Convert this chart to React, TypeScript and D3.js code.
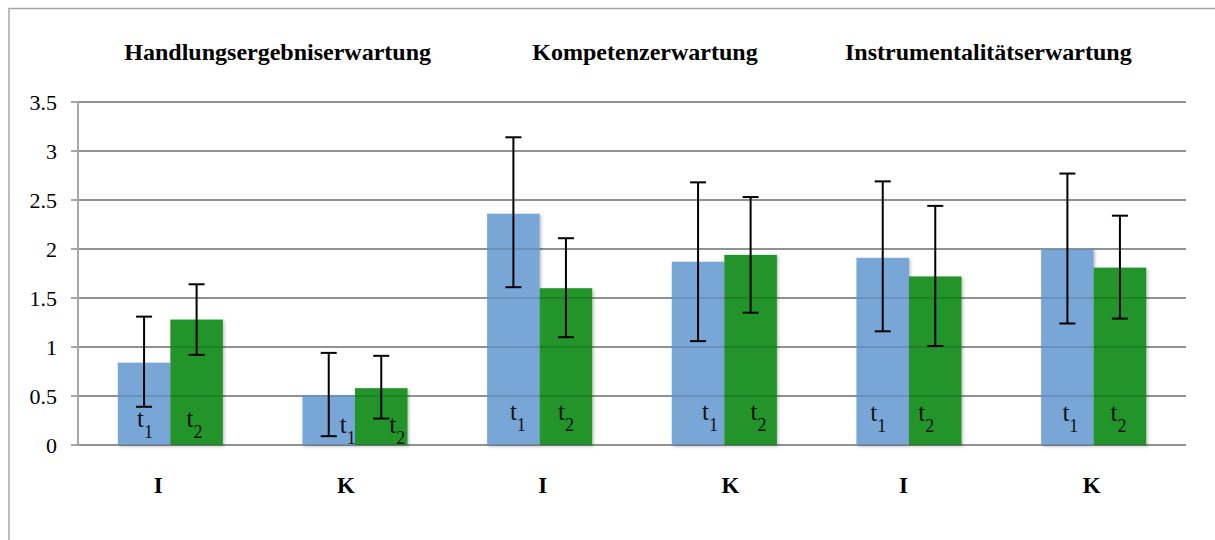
import React from "react";
import * as d3 from "d3";

const groupTitles = ["Handlungsergebniserwartung", "Kompetenzerwartung", "Instrumentalitätserwartung"];
const categories = ["I", "K", "I", "K", "I", "K"];
const seriesNames = ["t1", "t2"];
const t1Values = [0.84, 0.51, 2.36, 1.87, 1.91, 2.0];
const t2Values = [1.28, 0.58, 1.6, 1.94, 1.72, 1.81];
const t1Upper = [1.31, 0.94, 3.14, 2.68, 2.69, 2.77];
const t1Lower = [0.39, 0.09, 1.61, 1.06, 1.16, 1.24];
const t2Upper = [1.64, 0.91, 2.11, 2.53, 2.44, 2.34];
const t2Lower = [0.92, 0.27, 1.1, 1.35, 1.01, 1.29];
const yTicks = [0, 0.5, 1, 1.5, 2, 2.5, 3, 3.5];
const yTickLabels = ["0", "0.5", "1", "1.5", "2", "2.5", "3", "3.5"];

// layout tweaks (pixel offsets of hand-placed text)
const titleOffsets = [15, 13, -13];
const catLabelOffsets = [-12, -9, 3, 6, -5.5, -2];
const t1LabelOffsets = [-7, 11, -3.5, 4, -12.5, -5];
const t2LabelOffsets = [-10, 8, -8, 0, -17, -9.5];
const tLabelBaseline = [-18, -12, -25, -25, -24, -24];

const W = 1215;
const H = 540;
const left = 78;
const right = 1186;
const top = 102;
const bottom = 445;
const FONT = "'Times New Roman', 'Liberation Serif', Times, serif";
const BLUE = "#78a6d6";
const GREEN = "#22942a";
const GRID = "#a6a6a6";

export default function App() {
  const x = d3
    .scaleBand<number>()
    .domain(categories.map((_, i) => i))
    .range([left, right])
    .paddingInner(0.431)
    .paddingOuter(0.2155);
  const xs = d3.scaleBand<string>().domain(seriesNames).range([0, x.bandwidth()]).padding(0);
  const y = d3.scaleLinear().domain([0, 3.5]).range([bottom, top]);

  const series = [
    { name: "t1", values: t1Values, upper: t1Upper, lower: t1Lower, color: BLUE, offs: t1LabelOffsets, sub: "1" },
    { name: "t2", values: t2Values, upper: t2Upper, lower: t2Lower, color: GREEN, offs: t2LabelOffsets, sub: "2" },
  ];

  const center = (i: number) => (x(i) as number) + x.bandwidth() / 2;

  return (
    <svg
      width={W}
      height={H}
      style={{ position: "absolute", left: 0, top: 0, display: "block", background: "#fff" }}
    >
      <defs>
        <filter id="shadow" x="-10%" y="-10%" width="130%" height="130%">
          <feDropShadow dx="1.5" dy="1.5" stdDeviation="1.5" floodColor="#000" floodOpacity="0.25" />
        </filter>
      </defs>
      <rect x={9} y={8.5} width={1400} height={700} fill="none" stroke={GRID} strokeWidth={1.5} />

      {/* titles */}
      {groupTitles.map((t, g) => (
        <text
          key={t}
          x={(center(g * 2) + center(g * 2 + 1)) / 2 + titleOffsets[g]}
          y={60}
          textAnchor="middle"
          fontFamily={FONT}
          fontWeight="bold"
          fontSize={24}
        >
          {t}
        </text>
      ))}

      {/* gridlines under bars */}
      {yTicks.map((v) => (
        <line key={"g" + v} x1={left} x2={right} y1={y(v)} y2={y(v)} stroke={GRID} strokeWidth={2} />
      ))}

      {/* bars */}
      {series.map((s) =>
        s.values.map((v, i) => (
          <rect
            key={s.name + i}
            x={(x(i) as number) + (xs(s.name) as number)}
            y={y(v)}
            width={xs.bandwidth()}
            height={y(0) - y(v)}
            fill={s.color}
            filter="url(#shadow)"
          />
        ))
      )}

      {/* gridlines over bars (faint) */}
      {yTicks.map((v) => (
        <line key={"go" + v} x1={left} x2={right} y1={y(v)} y2={y(v)} stroke="#000" strokeOpacity={0.12} strokeWidth={2} />
      ))}

      {/* axis */}
      <line x1={left} x2={left} y1={y(3.5) - 1} y2={y(0) + 1} stroke={GRID} strokeWidth={2} />
      {yTicks.map((v, k) => (
        <g key={"t" + v}>
          <line x1={left - 7} x2={left} y1={y(v)} y2={y(v)} stroke={GRID} strokeWidth={2} />
          <text x={57} y={y(v) + 7.5} textAnchor="end" fontFamily={FONT} fontSize={22}>
            {yTickLabels[k]}
          </text>
        </g>
      ))}

      {/* t labels */}
      {series.map((s) =>
        s.values.map((_, i) => {
          const cx = (x(i) as number) + (xs(s.name) as number) + xs.bandwidth() / 2;
          return (
            <text
              key={"lbl" + s.name + i}
              x={cx + s.offs[i]}
              y={y(0) + tLabelBaseline[i]}
              fontFamily={FONT}
              fontSize={25}
              fill="#111"
            >
              t
              <tspan dy={11} fontSize={18}>
                {s.sub}
              </tspan>
            </text>
          );
        })
      )}

      {/* error bars */}
      {series.map((s) =>
        s.values.map((_, i) => {
          const cx = (x(i) as number) + (xs(s.name) as number) + xs.bandwidth() / 2;
          const yu = y(s.upper[i]);
          const yl = y(s.lower[i]);
          return (
            <g key={"e" + s.name + i} stroke="#000" strokeWidth={2}>
              <line x1={cx} x2={cx} y1={yu} y2={yl} />
              <line x1={cx - 8} x2={cx + 8} y1={yu} y2={yu} />
              <line x1={cx - 8} x2={cx + 8} y1={yl} y2={yl} />
            </g>
          );
        })
      )}

      {/* category labels */}
      {categories.map((c, i) => (
        <text
          key={"c" + i}
          x={center(i) + catLabelOffsets[i]}
          y={493}
          textAnchor="middle"
          fontFamily={FONT}
          fontWeight="bold"
          fontSize={23}
        >
          {c}
        </text>
      ))}
    </svg>
  );
}
